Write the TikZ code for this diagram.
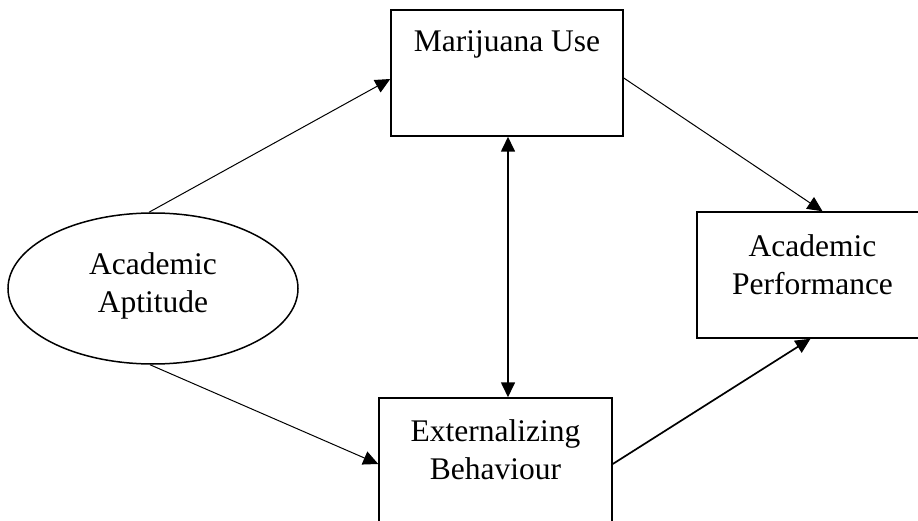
\documentclass[tikz,border=0pt]{standalone}
\usepackage{fontspec}
\setmainfont{Liberation Serif}
\usetikzlibrary{arrows.meta,shapes.geometric}

\tikzset{
  box/.style={draw=black, line width=1.5pt, rectangle, inner sep=0pt},
  oval/.style={draw=black, line width=1.5pt, ellipse, inner sep=0pt,
               minimum width=290pt, minimum height=151pt},
  lbl/.style={inner sep=0pt, align=center,
              font=\fontsize{31.5}{38}\selectfont},
  tip/.style={Triangle[length=15pt,width=14pt]},
  thin path/.style={line width=1pt, -{Triangle[length=15pt,width=14pt]}},
  thick path/.style={line width=1.7pt, -{Triangle[length=15pt,width=14pt]}},
}

\begin{document}
\begin{tikzpicture}[x=1pt, y=-1pt]
  \useasboundingbox (0,0) rectangle (918,521);
  \fill[white] (0,0) rectangle (918,521);
  \clip (0,0) rectangle (918,521);

  % boxes and the latent variable
  \node[box, minimum width=232pt, minimum height=126pt] (mu) at (507,73) {};
  \node[oval] (ell) at (153,288.5) {};
  \node[box, minimum width=233pt, minimum height=132pt] (xb) at (495.5,464) {};
  \node[box, minimum width=231pt, minimum height=126pt] (ap) at (812.5,275) {};

  % labels
  \node[lbl, anchor=base] (mutext) at (507,52) {Marijuana Use};
  \node[lbl] (elltext) at (153,286) {Academic\\Aptitude};
  \node[lbl] (xbtext) at (495.5,450) {Externalizing\\Behaviour};
  \node[lbl] (aptext) at (812.5,265) {Academic\\Performance};

  % paths
  \draw[thin path] ([xshift=-4pt]ell.north) -- ([yshift=-6pt]mu.west);
  \draw[thin path] ([xshift=-3pt]ell.south) -- (xb.west);
  \draw[thin path] ([yshift=-5pt]mu.east) -- ([xshift=10pt]ap.north);
  \draw[thick path] (xb.east) -- ([xshift=-2pt]ap.south);
  \draw[line width=1.7pt, {Triangle[length=15pt,width=14pt]}-{Triangle[length=15pt,width=14pt]}]
    ([xshift=1pt]mu.south) -- ([xshift=1pt]mu.south |- xb.north);
\end{tikzpicture}
\end{document}
